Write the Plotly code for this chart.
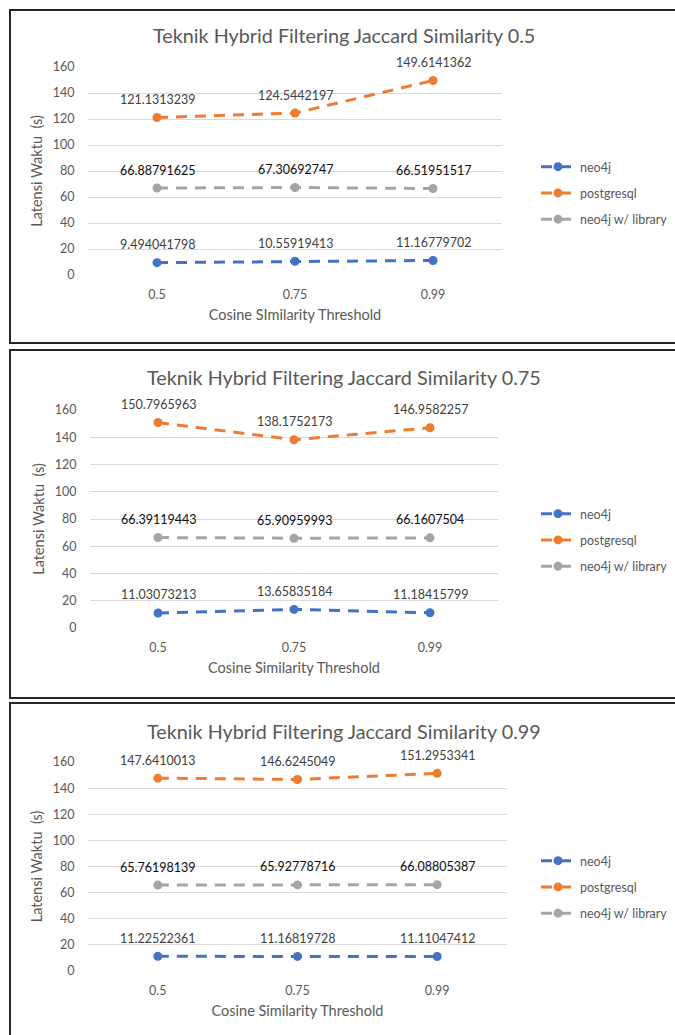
import plotly.graph_objects as go

# ---------------- data ----------------
categories = ["0.5", "0.75", "0.99"]
series_names = ["neo4j", "postgresql", "neo4j w/ library"]

neo4j_j050 = [9.494041798, 10.55919413, 11.16779702]
postgresql_j050 = [121.1313239, 124.5442197, 149.6141362]
library_j050 = [66.88791625, 67.30692747, 66.51951517]

neo4j_j075 = [11.03073213, 13.65835184, 11.18415799]
postgresql_j075 = [150.7965963, 138.1752173, 146.9582257]
library_j075 = [66.39119443, 65.90959993, 66.1607504]

neo4j_j099 = [11.22522361, 11.16819728, 11.11047412]
postgresql_j099 = [147.6410013, 146.6245049, 151.2953341]
library_j099 = [65.76198139, 65.92778716, 66.08805387]

chart_titles = [
    "Teknik Hybrid Filtering Jaccard Similarity 0.5",
    "Teknik Hybrid Filtering Jaccard Similarity 0.75",
    "Teknik Hybrid Filtering Jaccard Similarity 0.99",
]
x_titles = [
    "Cosine SImilarity Threshold",
    "Cosine Similarity Threshold",
    "Cosine Similarity Threshold",
]
y_title = "Latensi Waktu  (s)"
y_tick_values = [0, 20, 40, 60, 80, 100, 120, 140, 160]

panel_series = [
    [neo4j_j050, postgresql_j050, library_j050],
    [neo4j_j075, postgresql_j075, library_j075],
    [neo4j_j099, postgresql_j099, library_j099],
]

# ---------------- style / geometry ----------------
W, H = 675, 1035
FONT = "Lato"
colors = ["#4472C4", "#ED7D31", "#A5A5A5"]
label_colors = ["#404040", "#404040", "#0d0d0d"]
text_gray = "#595959"

# pixel geometry per panel
panels = [
    dict(box_top=10, box_bot=343, px0=88, px1=502, py_top=67, py_bot=275, title_y=35, leg_y=152),
    dict(box_top=350, box_bot=698, px0=90, px1=498, py_top=410, py_bot=628, title_y=377, leg_y=499),
    dict(box_top=703, box_bot=1045, px0=88, px1=507, py_top=762, py_bot=971, title_y=731, leg_y=846),
]


def fx(px):
    return px / W


def fy(py):
    return 1 - py / H


fig = go.Figure()
annotations = []
shapes = []
legend_names = ["legend", "legend2", "legend3"]

for i, (p, series) in enumerate(zip(panels, panel_series)):
    n = "" if i == 0 else str(i + 1)
    xa, ya = "x" + n, "y" + n
    for s, (name, vals) in enumerate(zip(series_names, series)):
        fig.add_trace(
            go.Scatter(
                x=categories,
                y=vals,
                name=name,
                mode="lines+markers",
                line=dict(color=colors[s], width=3, dash="11px,8px"),
                marker=dict(color=colors[s], size=9, symbol="circle"),
                xaxis=xa,
                yaxis=ya,
                legend=legend_names[i],
                legendgroup=f"g{i}_{s}",
                hoverinfo="skip",
            )
        )
        for ci, v in enumerate(vals):
            annotations.append(
                dict(
                    x=ci, y=v, xref=xa, yref=ya, text=f"{v}", showarrow=False,
                    yshift=18, font=dict(family=FONT, size=12.5, color=label_colors[s]),
                )
            )
    fig.update_layout(
        {
            "xaxis" + n: dict(
                domain=[fx(p["px0"]), fx(p["px1"])],
                anchor=ya,
                type="category",
                range=[-0.5, 2.5],
                automargin=False,
                showgrid=False,
                zeroline=False,
                showline=False,
                ticks="outside",
                ticklen=8,
                tickcolor="rgba(0,0,0,0)",
                tickfont=dict(family=FONT, size=12.5, color=text_gray),
                title=dict(text=x_titles[i], standoff=8,
                           font=dict(family=FONT, size=14.5, color=text_gray)),
                fixedrange=True,
            ),
            "yaxis" + n: dict(
                domain=[fy(p["py_bot"]), fy(p["py_top"])],
                anchor=xa,
                range=[0, 160],
                tickvals=y_tick_values,
                automargin=False,
                showgrid=True,
                gridcolor="#D9D9D9",
                gridwidth=1,
                zeroline=False,
                showline=False,
                ticks="outside",
                ticklen=10,
                tickcolor="rgba(0,0,0,0)",
                tickfont=dict(family=FONT, size=12.5, color=text_gray),
                title=dict(text=y_title, standoff=6,
                           font=dict(family=FONT, size=14.5, color=text_gray)),
                fixedrange=True,
            ),
            legend_names[i]: dict(
                x=fx(536), xanchor="left",
                y=fy(p["leg_y"]), yanchor="top",
                font=dict(family=FONT, size=12.5, color=text_gray),
                bgcolor="rgba(0,0,0,0)",
                tracegroupgap=7,
                itemwidth=34,
                itemclick=False, itemdoubleclick=False,
            ),
        }
    )
    annotations.append(
        dict(
            x=fx(344), y=fy(p["title_y"]), xref="paper", yref="paper",
            text=chart_titles[i], showarrow=False, xanchor="center", yanchor="middle",
            font=dict(family=FONT, size=19.8, color=text_gray),
        )
    )
    shapes.append(
        dict(
            type="rect", xref="paper", yref="paper",
            x0=fx(10), x1=fx(690), y0=fy(p["box_bot"]), y1=fy(p["box_top"]),
            line=dict(color="#262626", width=2), fillcolor="rgba(0,0,0,0)", layer="above",
        )
    )

fig.update_layout(
    width=W,
    height=H,
    margin=dict(l=0, r=0, t=0, b=0, autoexpand=False),
    paper_bgcolor="white",
    plot_bgcolor="white",
    showlegend=True,
    annotations=annotations,
    shapes=shapes,
    font=dict(family=FONT, color=text_gray),
)

fig.write_html(
    "out.html",
    config={"displayModeBar": False, "staticPlot": True},
    post_script="document.body.style.margin='0';document.body.style.overflow='hidden';",
)
